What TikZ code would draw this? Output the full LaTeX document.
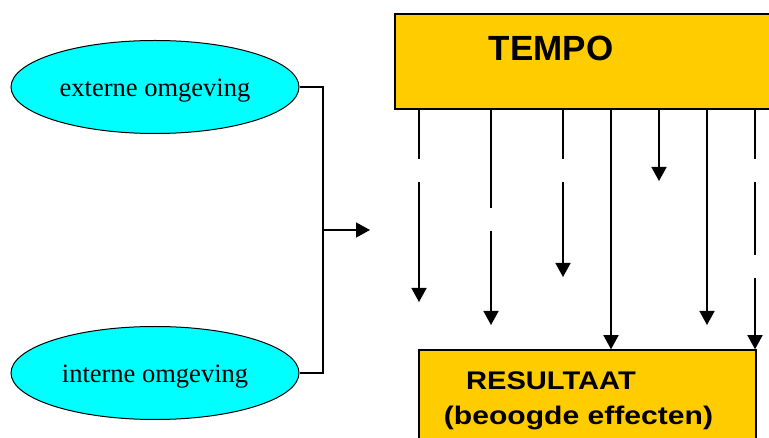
\documentclass[tikz,border=0pt]{standalone}
\usepackage{graphicx}
\usepackage{fontspec}
\setmainfont{Liberation Serif}
\newfontfamily\arialfont{Liberation Sans}
\usepackage{tikz}
\usetikzlibrary{positioning,arrows.meta,shapes.geometric}
\definecolor{tempogold}{HTML}{FFCC00}
\definecolor{omgcyan}{HTML}{00FFFF}

\begin{document}
\begin{tikzpicture}[
    x=1pt, y=-1pt,
    >={Triangle[length=14pt,width=15pt]},
    omg/.style={
        ellipse,
        draw,
        line width=1pt,
        fill=omgcyan,
        inner sep=0pt,
        minimum width=288pt,
        minimum height=93pt,
        text height=25pt,
        text depth=5.7pt,
        font=\fontsize{26.5}{30}\selectfont
    },
    goldbox/.style={draw, line width=1.5pt, fill=tempogold, inner sep=0pt},
    bigtitle/.style={font=\arialfont\bfseries\fontsize{35}{40}\selectfont, inner sep=0pt},
    restitle/.style={font=\arialfont\bfseries\fontsize{25.5}{30}\selectfont, inner sep=0pt},
    flow/.style={->, line width=1.5pt},
    link/.style={line width=1.4pt}
]
\useasboundingbox (0,0) rectangle (769,438);
\clip (0,0) rectangle (769,438);

% omgeving
\node[omg] (ext) at (155,87) {externe omgeving};
\node[omg] (int) at (155,373) {interne omgeving};
\coordinate (join) at (323,230);
\coordinate (joinend) at (370,230);
\draw[link] (ext.east) -| (join) |- (int.east);
\draw[link, ->] (join) -- (joinend);

% boxes
\node[goldbox, minimum width=390pt, minimum height=95pt] (tempo) at (590,61.5) {};
\node[bigtitle, anchor=base] (tempolabel) at (551,61) {TEMPO};
\node[goldbox, minimum width=337pt, minimum height=120pt] (res) at (587.5,410) {};
\node[restitle, anchor=base] (reslabel) at (551,390) {\scalebox{1.14}[1]{RESULTAAT}};
\node[restitle, anchor=base] (reseffect) at (578.5,424.5) {\scalebox{1.18}[1]{(beoogde effecten)}};

% arrows
\draw[flow, dash pattern=on 49pt off 23pt on 300pt off 10pt] (419,0 |- tempo.south) -- (419,302);
\draw[flow, dash pattern=on 98pt off 23pt on 300pt off 10pt] (491,0 |- tempo.south) -- (491,325);
\draw[flow, dash pattern=on 49pt off 23pt on 300pt off 10pt] (563,0 |- tempo.south) -- (563,277);
\draw[flow] (611,0 |- tempo.south) -- (611,0 |- res.north);
\draw[flow] (659,0 |- tempo.south) -- (659,181);
\draw[flow] (707,0 |- tempo.south) -- (707,325);
\draw[flow, dash pattern=on 49pt off 23pt on 73pt off 23pt on 300pt off 10pt] (755,0 |- tempo.south) -- (755,0 |- res.north);
\end{tikzpicture}
\end{document}
